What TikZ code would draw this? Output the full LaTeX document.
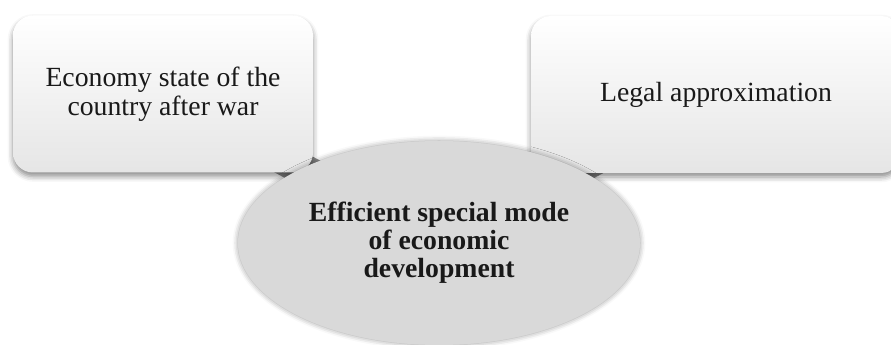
\documentclass[tikz,border=0pt]{standalone}
\usepackage{fontspec}
\setmainfont{Liberation Serif}
\usetikzlibrary{positioning,shapes.geometric,shadows.blur,backgrounds}

\begin{document}
\begin{tikzpicture}[
  x=0.75pt, y=-0.75pt,
  box/.style={rectangle, rounded corners=15pt,
              top color=white, bottom color=gray!20,
              minimum height=117.75pt, align=center, text=black!90,
              font=\fontsize{20.8}{22}\selectfont,
              blur shadow={shadow xshift=0pt, shadow yshift=-3pt,
                           shadow blur radius=4pt, shadow opacity=45}},
  hub/.style={ellipse, fill=gray!30,
              minimum width=301.5pt, minimum height=153pt,
              align=center, text=black!90,
              font=\bfseries\fontsize{20.8}{21}\selectfont,
              blur shadow={shadow xshift=0pt, shadow yshift=0pt,
                           shadow blur radius=4pt, shadow opacity=40}},
  link/.style={line width=24pt, draw=black!45}
]
  \useasboundingbox (0,0) rectangle (891,345);

  \node[box, minimum width=225pt] (econ) at (163,94)
    {Economy state of the\\country after war};
  \node[box, minimum width=277.5pt] (legal) at (716,94.5)
    {Legal approximation};
  \node[hub] (mode) at (439,243)
    {Efficient special mode\\of economic\\development};

  % connectors sit behind the shapes
  \begin{scope}[on background layer]
    \draw[link] (mode.center) -- (econ.center);
    \draw[link] (mode.center) -- (legal.center);
  \end{scope}
\end{tikzpicture}
\end{document}
